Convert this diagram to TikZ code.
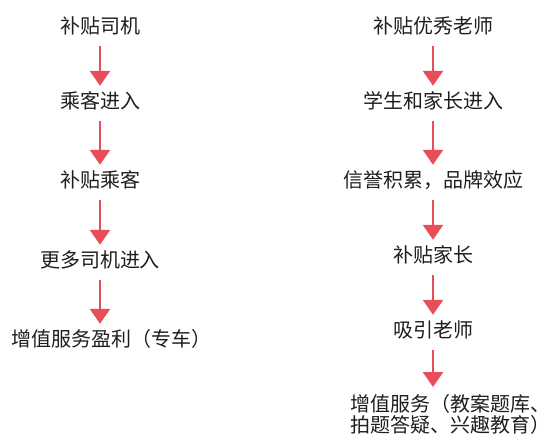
\documentclass[tikz,border=0pt]{standalone}
\usepackage{fontspec}
\setmainfont[Kerning=Off]{Noto Sans CJK SC}
\usetikzlibrary{arrows.meta}
\definecolor{arrowred}{HTML}{E84E57}
\definecolor{txt}{HTML}{1E1E1E}
\newcommand{\flp}{\makebox[1em][r]{（}}
\newcommand{\frp}{\makebox[1em][l]{）}}
\tikzset{
  lbl/.style={inner sep=0pt, text height=17pt, text depth=3pt, text=txt, font=\fontsize{20}{21}\selectfont},
  flow/.style={draw=arrowred, line width=2.6pt, -{Triangle[width=20pt,length=15pt]}, shorten <=10pt, shorten >=5pt}
}
\begin{document}
\begin{tikzpicture}[x=1pt,y=-1pt]
\useasboundingbox (0,0) rectangle (560,437);
% left column
\node[lbl] (l1) at (100,26) {补贴司机};
\node[lbl] (l2) at (100,101) {乘客进入};
\node[lbl] (l3) at (100,180) {补贴乘客};
\node[lbl] (l4) at (100,260) {更多司机进入};
\node[lbl, anchor=west] (l5) at (11,339) {增值服务盈利\flp 专车\frp};
% right column
\node[lbl] (r1) at (433,26) {补贴优秀老师};
\node[lbl] (r2) at (433,101) {学生和家长进入};
\node[lbl] (r3) at (433,180) {信誉积累，品牌效应};
\node[lbl] (r4) at (433,255) {补贴家长};
\node[lbl] (r5) at (433,330) {吸引老师};
\node[lbl, align=left, anchor=north west, text height=, text depth=] (r6) at (350,394) {增值服务\flp 教案题库、\\拍题答疑、兴趣教育\frp};
% arrows
\draw[flow] (l1.south) -- (l2.north);
\draw[flow] (l2.south) -- (l3.north);
\draw[flow] (l3.south) -- (l4.north);
\draw[flow] (l4.south) -- (l5.north -| l4.south);
\draw[flow] (r1.south) -- (r2.north);
\draw[flow] (r2.south) -- (r3.north);
\draw[flow] (r3.south) -- (r4.north);
\draw[flow] (r4.south) -- (r5.north);
\draw[flow] (r5.south) -- ([yshift=2pt]r6.north -| r5.south);
\end{tikzpicture}
\end{document}
